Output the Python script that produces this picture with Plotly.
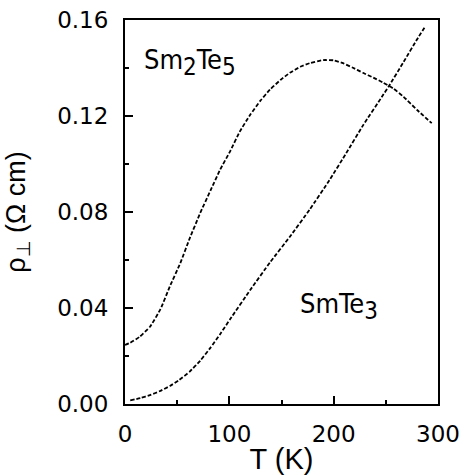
import plotly.graph_objects as go

# Sm2Te5 resistivity vs temperature
t_sm2te5 = [0, 5, 14, 24, 34, 43, 53, 62, 72, 82, 91, 101, 110, 120, 130, 139, 149,
            158, 168, 177, 190, 200, 209, 218, 228, 238, 247, 257, 267, 280, 294]
rho_sm2te5 = [0.0246, 0.0255, 0.028, 0.0322, 0.0395, 0.049, 0.0587, 0.069, 0.0795,
              0.089, 0.0975, 0.1055, 0.1135, 0.1205, 0.1265, 0.131, 0.135,
              0.138, 0.1405, 0.142, 0.1433, 0.1432, 0.142, 0.1402, 0.138, 0.136,
              0.134, 0.1315, 0.128, 0.1225, 0.117]

# SmTe3 resistivity vs temperature
t_smte3 = [5, 15, 24, 33, 43, 52, 62, 72, 82, 91, 101, 120, 139, 158, 177, 196, 212,
           228, 247, 253, 267, 280, 288]
rho_smte3 = [0.0015, 0.0025, 0.0037, 0.0053, 0.0075, 0.010, 0.0135, 0.018, 0.0235,
             0.029, 0.0355, 0.0475, 0.059, 0.0697, 0.081, 0.0933, 0.1045, 0.116,
             0.1285, 0.1325, 0.1425, 0.152, 0.1575]

x_ticks = [0, 100, 200, 300]
y_ticks = [0.00, 0.04, 0.08, 0.12, 0.16]
y_tick_labels = ["0.00", "0.04", "0.08", "0.12", "0.16"]

fig = go.Figure()
for t, r in [(t_sm2te5, rho_sm2te5), (t_smte3, rho_smte3)]:
    fig.add_trace(go.Scatter(
        x=t, y=r, mode="lines",
        line=dict(color="black", width=1.8, dash="4px,2px", shape="spline", smoothing=0.4),
        showlegend=False, hoverinfo="skip"))

font_tick = "DejaVu Sans, sans-serif"
font_title = "Liberation Sans, Arial, sans-serif"
font_label = "DejaVu Sans Condensed, Liberation Sans, sans-serif"
sub = "<sub><span style='font-size:24px'>{}</span></sub>"

fig.add_annotation(x=16, y=0.1425, xref="x", yref="y",
                   text="Sm" + sub.format("2") + "Te" + sub.format("5"),
                   showarrow=False, xanchor="left", yanchor="middle",
                   font=dict(family=font_label, size=27, color="black"))
fig.add_annotation(x=166, y=0.0405, xref="x", yref="y",
                   text="SmTe" + sub.format("3"),
                   showarrow=False, xanchor="left", yanchor="middle",
                   font=dict(family=font_label, size=27, color="black"))

axis_common = dict(showline=True, linecolor="black", linewidth=2, mirror=True,
                   ticks="inside", tickcolor="black", tickwidth=1.5, ticklen=8,
                   showgrid=False, zeroline=False, automargin=False,
                   tickfont=dict(family=font_tick, size=23, color="black"),
                   minor=dict(ticks="inside", ticklen=4, tickwidth=1.5, tickcolor="black"))

fig.update_xaxes(range=[0, 300], tickvals=x_ticks, ticklabelstandoff=8,
                 title=dict(text="T (K)",
                            font=dict(family=font_title, size=29, color="black"), standoff=4),
                 minor_dtick=50, **axis_common)
fig.update_yaxes(range=[0, 0.16], tickvals=y_ticks, ticktext=y_tick_labels,
                 ticklabelstandoff=10,
                 title=dict(text="ρ<sub>⊥</sub> (Ω cm)",
                            font=dict(family=font_title, size=27, color="black"), standoff=24),
                 minor_dtick=0.02, **axis_common)

fig.update_layout(width=460, height=475, margin=dict(l=125, r=22, t=20, b=71, autoexpand=False),
                  paper_bgcolor="white", plot_bgcolor="white")

fig.write_html("out.html")
